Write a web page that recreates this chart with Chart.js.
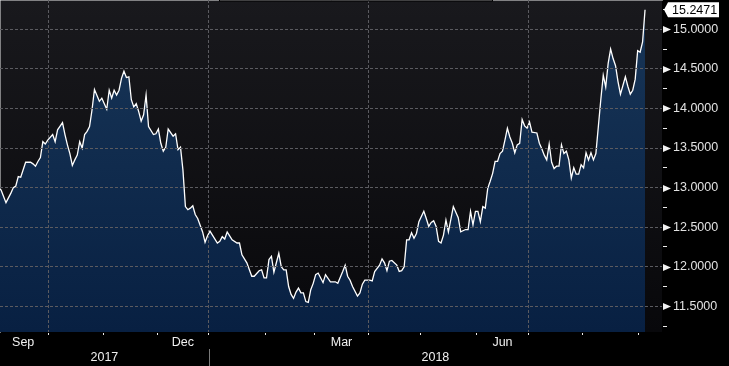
<!DOCTYPE html>
<html>
<head>
<meta charset="utf-8">
<script src="https://cdn.jsdelivr.net/npm/chart.js@4.4.0/dist/chart.umd.min.js"></script>
<style>
    html, body { margin: 0; padding: 0; background: #000; }
    #wrap { width: 729px; height: 366px; }
</style>
</head>
<body>
<div id="wrap"><canvas id="fxChart" width="729" height="366"></canvas></div>
<script>
// Koersverloop over één jaar, x-as = handelsdag sinds 1 sep 2017.

const days = [
    0, 1, 3, 5, 6, 7, 8, 9, 11, 13,
    14, 15, 16, 17, 18, 19, 20, 22, 23, 24,
    26, 27, 28, 29, 30, 31, 32, 33, 34, 35,
    36, 37, 38, 39, 41, 42, 43, 44, 45, 46,
    47, 48, 49, 50, 51, 52, 53, 54, 55, 56,
    57, 58, 59, 60, 61, 63, 64, 65, 66, 67,
    68, 69, 71, 72, 73, 74, 75, 76, 77, 78,
    79, 80, 81, 83, 84, 85, 86, 87, 89, 90,
    91, 92, 93, 94, 95, 97, 98, 99, 101, 103,
    104, 106, 107, 108, 109, 110, 111, 112, 113, 114,
    115, 116, 117, 118, 119, 120, 121, 122, 123, 124,
    125, 126, 127, 128, 129, 130, 132, 133, 135, 137,
    138, 140, 141, 142, 143, 144, 146, 147, 148, 149,
    151, 152, 153, 155, 156, 157, 158, 159, 160, 162,
    163, 164, 165, 166, 167, 168, 169, 170, 171, 173,
    174, 175, 176, 177, 178, 179, 180, 181, 182, 183,
    185, 187, 188, 190, 191, 192, 193, 194, 195, 196,
    197, 198, 199, 200, 201, 202, 203, 204, 205, 206,
    207, 208, 209, 210, 211, 212, 213, 214, 215, 216,
    217, 219, 220, 221, 222, 223, 224, 225, 226, 227,
    228, 229, 230, 231, 232, 233, 234, 235, 236, 237,
    238, 239, 240, 241, 242, 243, 244, 245, 246, 247,
    248, 249, 250, 251, 252, 253, 255, 256, 257, 258,
    259, 260, 261, 262, 263
];

const rates = [
    12.99, 12.97, 12.81, 12.93, 13.00, 13.02, 13.14, 13.13, 13.32, 13.32,
    13.30, 13.27, 13.33, 13.38, 13.58, 13.55, 13.60, 13.67, 13.58, 13.73,
    13.82, 13.67, 13.54, 13.43, 13.28, 13.35, 13.41, 13.58, 13.50, 13.67,
    13.71, 13.77, 13.98, 14.24, 14.09, 14.13, 14.06, 13.99, 14.23, 14.13,
    14.23, 14.17, 14.23, 14.38, 14.47, 14.39, 14.40, 14.11, 14.02, 14.06,
    13.96, 13.84, 13.92, 14.17, 13.77, 13.67, 13.68, 13.74, 13.56, 13.46,
    13.51, 13.74, 13.65, 13.68, 13.48, 13.51, 13.22, 12.76, 12.72, 12.74,
    12.77, 12.66, 12.61, 12.44, 12.31, 12.39, 12.45, 12.40, 12.30, 12.32,
    12.38, 12.35, 12.44, 12.39, 12.34, 12.30, 12.30, 12.15, 12.05, 11.88,
    11.88, 11.95, 11.96, 11.86, 11.86, 12.09, 12.13, 11.93, 12.05, 12.17,
    12.00, 11.96, 11.96, 11.75, 11.65, 11.60, 11.68, 11.73, 11.67, 11.67,
    11.56, 11.55, 11.71, 11.79, 11.90, 11.92, 11.80, 11.90, 11.81, 11.81,
    11.79, 11.94, 12.02, 11.88, 11.83, 11.75, 11.63, 11.67, 11.78, 11.83,
    11.83, 11.82, 11.94, 12.02, 12.10, 12.05, 11.95, 12.07, 12.08, 12.02,
    11.94, 11.95, 12.00, 12.34, 12.34, 12.43, 12.36, 12.42, 12.57, 12.70,
    12.61, 12.51, 12.56, 12.58, 12.51, 12.32, 12.30, 12.40, 12.59, 12.44,
    12.76, 12.62, 12.44, 12.47, 12.47, 12.70, 12.53, 12.70, 12.70, 12.57,
    12.76, 12.74, 12.99, 13.08, 13.18, 13.33, 13.33, 13.43, 13.46, 13.60,
    13.75, 13.64, 13.56, 13.44, 13.54, 13.56, 13.86, 13.78, 13.75, 13.83,
    13.70, 13.69, 13.56, 13.49, 13.41, 13.35, 13.55, 13.32, 13.24, 13.27,
    13.27, 13.54, 13.43, 13.46, 13.35, 13.12, 13.25, 13.17, 13.17, 13.29,
    13.25, 13.44, 13.35, 13.44, 13.35, 13.43, 13.77, 14.11, 14.42, 14.27,
    14.57, 14.75, 14.63, 14.54, 14.34, 14.18, 14.40, 14.28, 14.18, 14.23,
    14.37, 14.73, 14.71, 14.84, 15.2471
];

// maandgrenzen (handelsdag) en kwartaalgrenzen voor het raster
const MONTH_BOUNDS = [20.5, 42.5, 64.5, 85.5, 108.5, 128.5, 150.5, 171.5, 194.5, 215.5, 237.5, 260.5];
const QUARTER_BOUNDS = [20.5, 85.5, 150.5, 215.5];
const MONTH_LABELS = ['Sep', 'Dec', 'Mar', 'Jun'];
const MONTH_CENTERS = [10, 75, 139.5, 205];
const YEAR_LABELS = ['2017', '2018'];
const YEAR_SPLIT = 85.5;
const Y_TICKS = [11.25, 11.5, 11.75, 12, 12.25, 12.5, 12.75, 13, 13.25, 13.5, 13.75, 14, 14.25, 14.5, 14.75, 15, 15.25];

const X_MIN = 0.57, X_MAX = 269.9;
const Y_MIN = 11.1755, Y_MAX = 15.37;

const FONT = '"Liberation Sans", Arial, sans-serif';
const GRID = '#5b5b60';
const AXIS = '#ececec';
const isMajor = v => Math.abs(v * 2 - Math.round(v * 2)) < 1e-6;

const backdrop = {
    id: 'backdrop',
    beforeDraw(chart) {
        const { ctx, chartArea: a } = chart;
        ctx.save();
        ctx.fillStyle = '#000';
        ctx.fillRect(0, 0, chart.width, chart.height);
        const g = ctx.createLinearGradient(0, a.top, 0, a.bottom);
        g.addColorStop(0, '#19191d');
        g.addColorStop(1, '#08080b');
        ctx.fillStyle = g;
        ctx.fillRect(a.left, a.top, a.right - a.left, a.bottom - a.top);
        ctx.restore();
    }
};

const overlay = {
    id: 'overlay',
    afterDraw(chart) {
        const { ctx, chartArea: a, scales: { x, y } } = chart;
        ctx.save();

        // pijltjes bij de hoofdlabels
        ctx.fillStyle = '#f2f2f2';
        Y_TICKS.filter(isMajor).forEach(v => {
            const py = Math.round(y.getPixelForValue(v)) + 0.5;
            ctx.beginPath();
            ctx.moveTo(a.right + 1, py - 3.5);
            ctx.lineTo(a.right + 9, py);
            ctx.lineTo(a.right + 1, py + 3.5);
            ctx.closePath();
            ctx.fill();
        });

        // laatste koers
        const last = rates[rates.length - 1];
        const ly = y.getPixelForValue(last);
        ctx.fillStyle = '#ffffff';
        ctx.beginPath();
        ctx.moveTo(a.right + 2, ly);
        ctx.lineTo(a.right + 6, ly - 7.5);
        ctx.lineTo(a.right + 57, ly - 7.5);
        ctx.lineTo(a.right + 57, ly + 7.5);
        ctx.lineTo(a.right + 6, ly + 7.5);
        ctx.closePath();
        ctx.fill();
        ctx.fillStyle = '#000';
        ctx.font = `12.5px ${FONT}`;
        ctx.textBaseline = 'middle';
        ctx.textAlign = 'left';
        ctx.fillText(last.toFixed(4), a.right + 10, ly + 0.5);

        // maanden en jaren
        ctx.fillStyle = '#f0f0f0';
        ctx.textAlign = 'center';
        ctx.font = `12.5px ${FONT}`;
        MONTH_LABELS.forEach((m, i) => {
            ctx.fillText(m, x.getPixelForValue(MONTH_CENTERS[i]), a.bottom + 11);
        });
        const split = x.getPixelForValue(YEAR_SPLIT);
        ctx.fillText(YEAR_LABELS[0], (a.left + split) / 2, a.bottom + 26);
        ctx.fillText(YEAR_LABELS[1], (split + a.right) / 2, a.bottom + 26);
        ctx.strokeStyle = '#7a7a7a';
        ctx.lineWidth = 1;
        ctx.beginPath();
        ctx.moveTo(Math.round(split) + 0.5, a.bottom + 17);
        ctx.lineTo(Math.round(split) + 0.5, chart.height);
        ctx.stroke();

        // rand van het (afgesneden) legendavak bovenaan
        ctx.strokeStyle = '#000';
        ctx.strokeRect(219.5, -6, 273, 7);
        ctx.restore();
    }
};

const ctx = document.getElementById('fxChart').getContext('2d');
new Chart(ctx, {
    type: 'line',
    data: {
        datasets: [{
            data: days.map((d, i) => ({ x: d, y: rates[i] })),
            borderColor: '#ffffff',
            borderWidth: 1.3,
            pointRadius: 0,
            tension: 0,
            fill: 'start',
            backgroundColor: c => {
                const a = c.chart.chartArea;
                if (!a) return '#0f2a4a';
                const g = c.chart.ctx.createLinearGradient(0, a.top, 0, a.bottom);
                g.addColorStop(0, '#183658');
                g.addColorStop(1, '#082042');
                return g;
            }
        }]
    },
    options: {
        responsive: false,
        animation: false,
        devicePixelRatio: 1,
        layout: { padding: 0 },
        plugins: { legend: { display: false }, tooltip: { enabled: false } },
        scales: {
            x: {
                type: 'linear',
                min: X_MIN,
                max: X_MAX,
                afterBuildTicks: s => { s.ticks = MONTH_BOUNDS.map(v => ({ value: v })); },
                afterFit: s => { s.height = 34; s.paddingLeft = 0; s.paddingRight = 0; },
                ticks: { display: false },
                grid: {
                    z: 1,
                    color: c => (c.tick && QUARTER_BOUNDS.includes(c.tick.value)) ? GRID : 'rgba(0,0,0,0)',
                    tickColor: AXIS,
                    tickLength: 3
                },
                border: { color: AXIS, width: 1, dash: [3, 2] }
            },
            y: {
                position: 'right',
                min: Y_MIN,
                max: Y_MAX,
                afterBuildTicks: s => { s.ticks = Y_TICKS.map(v => ({ value: v })); },
                afterFit: s => { s.width = 67; s.paddingTop = 0; s.paddingBottom = 0; },
                ticks: {
                    autoSkip: false,
                    padding: 6,
                    color: '#e2e2e2',
                    font: { family: FONT, size: 12.5 },
                    callback: v => isMajor(v) ? v.toFixed(4) : ''
                },
                grid: {
                    z: 1,
                    color: c => (c.tick && isMajor(c.tick.value)) ? GRID : 'rgba(0,0,0,0)',
                    tickColor: c => (c.tick && isMajor(c.tick.value)) ? 'rgba(0,0,0,0)' : AXIS,
                    tickLength: 5
                },
                border: { color: AXIS, width: 1, dash: [3, 2] }
            }
        }
    },
    plugins: [backdrop, overlay]
});
</script>
</body>
</html>
